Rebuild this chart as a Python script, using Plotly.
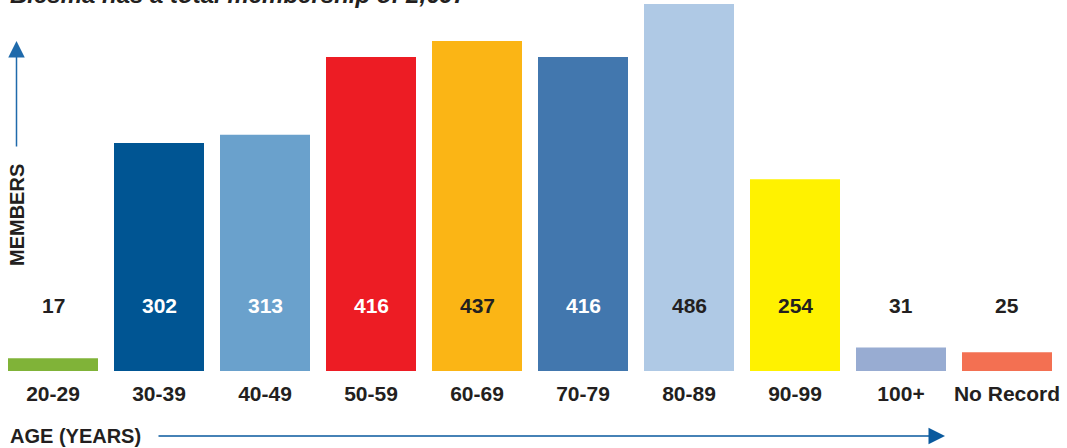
import plotly.graph_objects as go

categories = ["20-29", "30-39", "40-49", "50-59", "60-69", "70-79", "80-89", "90-99", "100+", "No Record"]
members = [17, 302, 313, 416, 437, 416, 486, 254, 31, 25]
bar_colors = ["#80b338", "#005593", "#6aa1cc", "#ed1c24", "#fbb515", "#4277ae", "#afc9e5", "#fff200", "#98acd2", "#f37052"]
label_colors = ["#231f20", "#ffffff", "#ffffff", "#ffffff", "#231f20", "#ffffff", "#231f20", "#231f20", "#231f20", "#231f20"]
title_text = "Blesma has a total membership of 2,697"
x_title = "AGE (YEARS)"
y_title = "MEMBERS"

FONT = "Liberation Sans, Arial, sans-serif"
W, H = 1067, 448
PLOT_W = 1060
PLOT_BOTTOM = 371

fig = go.Figure(go.Bar(
    x=categories, y=members, marker=dict(color=bar_colors, line=dict(width=0)),
    hoverinfo="x+y",
))

ann = []
for c, v, lc in zip(categories, members, label_colors):
    ann.append(dict(x=c, xref="x", y=(PLOT_BOTTOM - 305) / PLOT_BOTTOM, yref="paper",
                    text=str(v), showarrow=False, xanchor="center", yanchor="middle",
                    font=dict(family=FONT, size=21, color=lc, weight=700)))

# title (cut off at top, as in the original)
ann.append(dict(x=8 / PLOT_W, xref="paper", y=1 - 10 / PLOT_BOTTOM, yref="paper",
                text=title_text, showarrow=False, xanchor="left", yanchor="bottom",
                font=dict(family=FONT, size=24, color="#231f20", weight=700, style="italic")))

# x axis title
ann.append(dict(x=8 / PLOT_W, xref="paper", y=(PLOT_BOTTOM - 436) / PLOT_BOTTOM, yref="paper",
                text=x_title, showarrow=False, xanchor="left", yanchor="middle",
                font=dict(family=FONT, size=20, color="#231f20", weight=700)))
# y axis title
ann.append(dict(x=17 / PLOT_W, xref="paper", y=(PLOT_BOTTOM - 215) / PLOT_BOTTOM, yref="paper",
                text=y_title, showarrow=False, textangle=-90, xanchor="center", yanchor="middle",
                font=dict(family=FONT, size=20, color="#231f20", weight=700)))

# arrows
ann.append(dict(x=945 / PLOT_W, xref="paper", y=(PLOT_BOTTOM - 436) / PLOT_BOTTOM, yref="paper",
                ax=-(945 - 157), ay=0, text="", showarrow=True, arrowhead=2, arrowsize=2.2,
                arrowwidth=1.5, arrowcolor="#0a5a9e"))
ann.append(dict(x=16.5 / PLOT_W, xref="paper", y=(PLOT_BOTTOM - 41) / PLOT_BOTTOM, yref="paper",
                ax=0, ay=148 - 41, text="", showarrow=True, arrowhead=2, arrowsize=2.2,
                arrowwidth=1.5, arrowcolor="#1f6aab"))

fig.update_layout(
    width=W, height=H,
    margin=dict(l=0, r=W - PLOT_W, t=0, b=H - PLOT_BOTTOM, pad=0),
    paper_bgcolor="white", plot_bgcolor="white",
    bargap=16 / 106,
    showlegend=False,
    annotations=ann,
    xaxis=dict(showgrid=False, zeroline=False, showline=False, ticks="",
               tickfont=dict(family=FONT, size=21, color="#231f20", weight=700),
               ticklabelstandoff=8,
               automargin=False, range=[-0.5, 9.5]),
    yaxis=dict(showgrid=False, zeroline=False, showline=False, showticklabels=False,
               range=[0, PLOT_BOTTOM / 0.755], automargin=False, fixedrange=True),
)

fig.write_html("out.html", config={"displayModeBar": False},
               post_script="document.body.style.margin='0';document.body.style.overflow='hidden';")
